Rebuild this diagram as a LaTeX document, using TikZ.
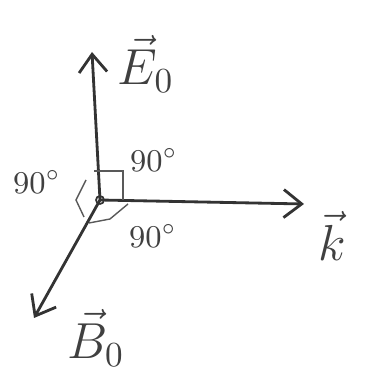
\documentclass[tikz,border=0pt]{standalone}
\usetikzlibrary{positioning,arrows.meta}

\begin{document}
\begin{tikzpicture}[
x=0.01cm,y=-0.01cm,
axis/.style={line width=0.8pt,draw=black!80,-{Straight Barb[length=1.8mm,width=2.8mm]}},
anglemark/.style={line width=0.4pt,draw=black!65},
lbl/.style={text=black!75,font=\small},
vlbl/.style={text=black!75,font=\Large},
>=Stealth]
\useasboundingbox (0,0) rectangle (376,371);
\coordinate (o) at (100,200);
\coordinate (etip) at (92,52);
\coordinate (ktip) at (304,204);
\coordinate (btip) at (34,318);
% axes
\draw[axis] (o) -- (etip);
\draw[axis] (o) -- (ktip);
\draw[axis] (o) -- (btip);
\node[circle,draw=black!80,line width=0.5pt,inner sep=0pt,minimum size=0.08cm] (c) at (o) {};
% right angle marks
\draw[anglemark] (94,171) -- (123,171) -- (123,200);
\draw[anglemark] (86,180) -- (76,200) -- (84,217);
\draw[anglemark] (128,204) -- (110,219) -- (89,223);
% labels
\node[vlbl] (e) at (146,64) {$\vec{E}_0$};
\node[vlbl] (k) at (332,236) {$\vec{k}$};
\node[vlbl] (b) at (96,338) {$\vec{B}_0$};
\node[lbl] (a1) at (37,182) {$90^\circ$};
\node[lbl] (a2) at (154,160) {$90^\circ$};
\node[lbl] (a3) at (153,236) {$90^\circ$};
\end{tikzpicture}
\end{document}
